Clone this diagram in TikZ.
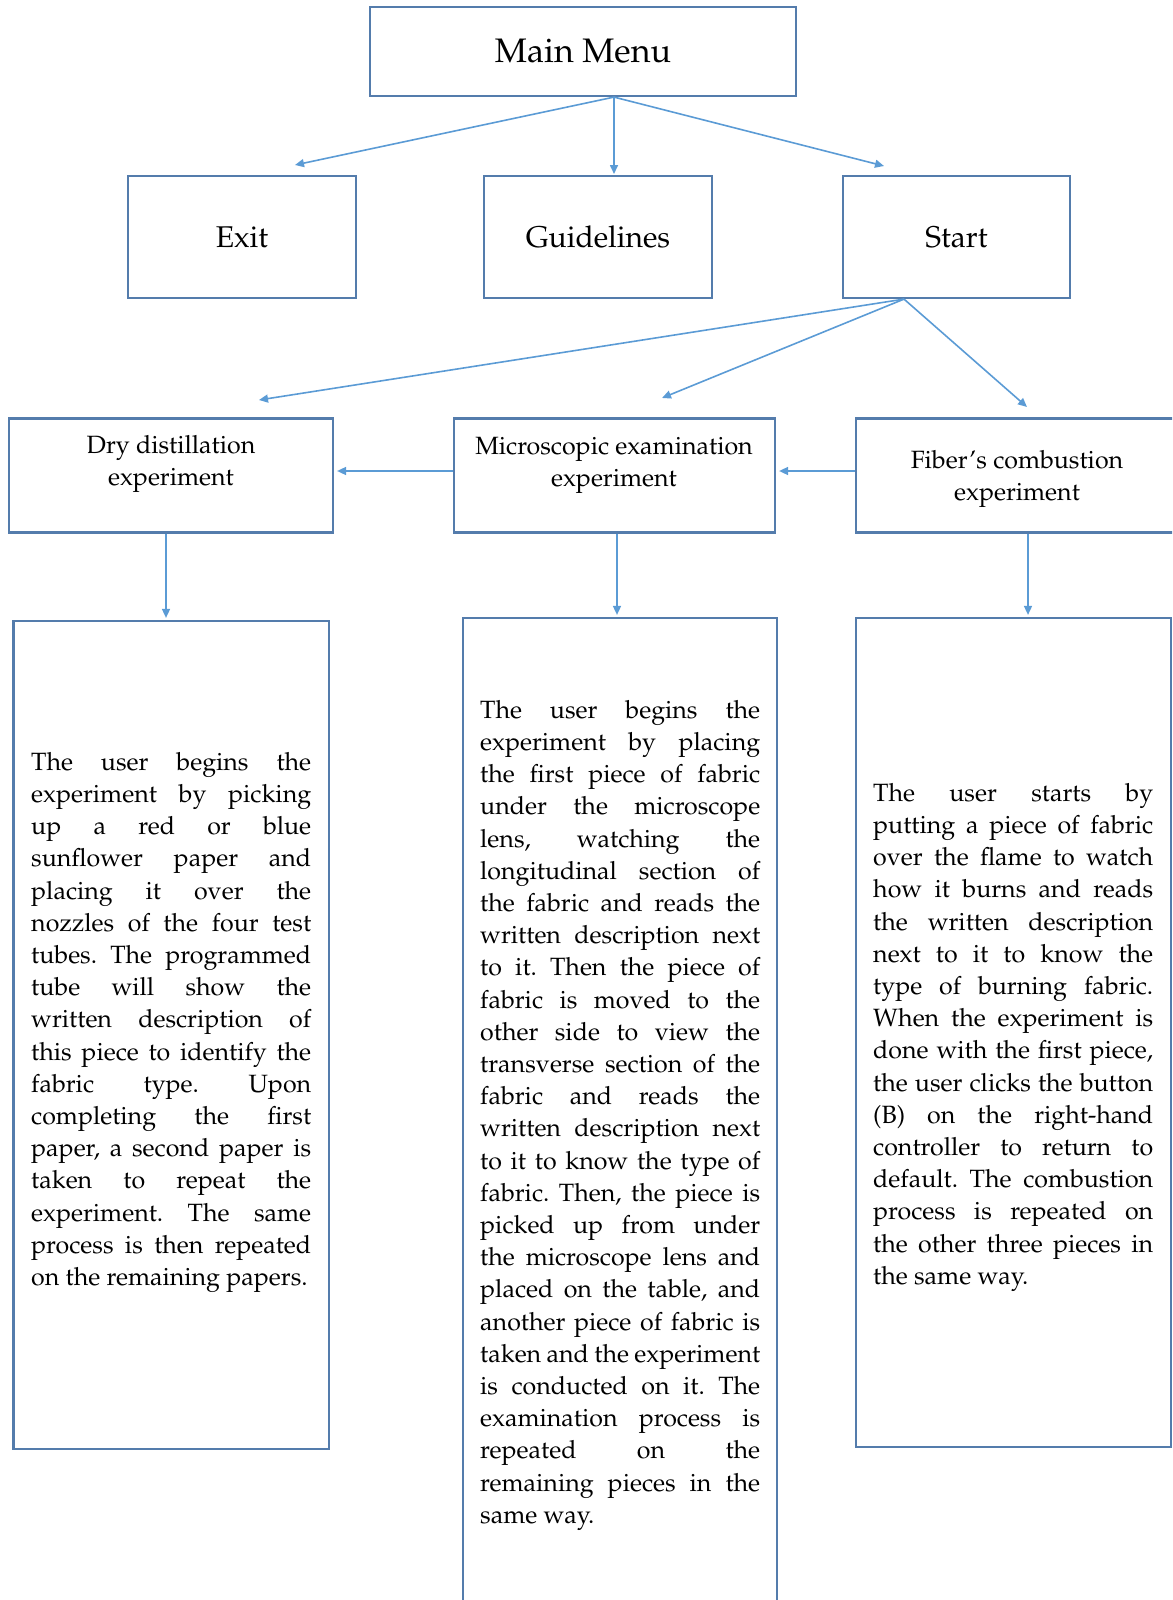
\documentclass[tikz,border=0pt]{standalone}
\usepackage[T1]{fontenc}
\usepackage{mathpazo}
\usetikzlibrary{arrows.meta}
\definecolor{boxc}{RGB}{84,124,172}
\definecolor{arrc}{RGB}{91,155,213}
\tolerance=10000
\hbadness=10000
\hyphenpenalty=10000
\emergencystretch=0pt
\frenchspacing
\begin{document}
\begin{tikzpicture}[x=1pt,y=-1pt,
 box/.style={draw=boxc,line width=2.2pt,inner sep=0pt,rectangle},
 arr/.style={draw=arrc,line width=1.6pt,-{Triangle[length=9pt,width=8pt]}},
 body/.style={text width=280pt,align=justify,inner sep=0pt,font=\fontsize{25}{32.2}\selectfont\frenchspacing,anchor=north west},
 head/.style={align=center,inner sep=0pt,font=\fontsize{25}{32.2}\selectfont}]
\useasboundingbox (0,0) rectangle (1172,1600);
\clip (0,0) rectangle (1172,1600);
% top level
\node[box,minimum width=426pt,minimum height=89pt,font=\fontsize{34}{40}\selectfont] (main) at (583,51.5) {Main Menu};
\node[box,minimum width=228pt,minimum height=122pt,font=\fontsize{30}{36}\selectfont] (exit) at (242,237) {Exit};
\node[box,minimum width=228pt,minimum height=122pt,font=\fontsize{30}{36}\selectfont] (gdl) at (598,237) {Guidelines};
\node[box,minimum width=227pt,minimum height=122pt,font=\fontsize{30}{36}\selectfont] (start) at (956.5,237) {Start};
% experiment boxes
\node[box,minimum width=324pt,minimum height=114pt] (dryb) at (171,475.5) {};
\node[head] (dryt) at (171,464) {Dry distillation\\experiment};
\node[box,minimum width=321pt,minimum height=114pt] (micb) at (614.5,475.5) {};
\node[head] (mict) at (614,465) {Microscopic examination\\experiment};
\node[box,minimum width=329pt,minimum height=114pt] (fibb) at (1020.5,475.5) {};
\node[head] (fibt) at (1017,479) {Fiber's combustion\\experiment};
% body boxes
\node[box,minimum width=315.5pt,minimum height=828pt] (b1) at (171.25,1035) {};
\node[box,minimum width=314pt,minimum height=1002pt] (b2) at (620,1119) {};
\node[box,minimum width=315pt,minimum height=829pt] (b3) at (1013.5,1032.5) {};
\node[body] (t1) at (31,752) {The user begins the\linebreak
experiment by picking\linebreak
up a red or blue\linebreak
sunflower paper and\linebreak
placing it over the\linebreak
nozzles of the four test\linebreak
tubes. The programmed\linebreak
tube will show the\linebreak
written description of\linebreak
this piece to identify the\linebreak
fabric type. Upon\linebreak
completing the first\linebreak
paper, a second paper is\linebreak
taken to repeat the\linebreak
experiment. The same\linebreak
process is then repeated\linebreak
on the remaining papers.};
\node[body] (t2) at (480,700) {The user begins the\linebreak
experiment by placing\linebreak
the first piece of fabric\linebreak
under the microscope\linebreak
lens, watching the\linebreak
longitudinal section of\linebreak
the fabric and reads the\linebreak
written description next\linebreak
to it. Then the piece of\linebreak
fabric is moved to the\linebreak
other side to view the\linebreak
transverse section of the\linebreak
fabric and reads the\linebreak
written description next\linebreak
to it to know the type of\linebreak
fabric. Then, the piece is\linebreak
picked up from under\linebreak
the microscope lens and\linebreak
placed on the table, and\linebreak
another piece of fabric is\linebreak
taken and the experiment\linebreak
is conducted on it. The\linebreak
examination process is\linebreak
repeated on the\linebreak
remaining pieces in the\linebreak
same way.};
\node[body] (t3) at (873,783) {The user starts by\linebreak
putting a piece of fabric\linebreak
over the flame to watch\linebreak
how it burns and reads\linebreak
the written description\linebreak
next to it to know the\linebreak
type of burning fabric.\linebreak
When the experiment is\linebreak
done with the first piece,\linebreak
the user clicks the button\linebreak
(B) on the right-hand\linebreak
controller to return to\linebreak
default. The combustion\linebreak
process is repeated on\linebreak
the other three pieces in\linebreak
the same way.};
% arrow end points
\coordinate (e1) at (295,165);
\coordinate (e2) at (614,174);
\coordinate (e3) at (884,166);
\coordinate (e4) at (259,400);
\coordinate (e5) at (662,398);
\coordinate (e6) at (1027,407);
% connectors
\draw[arr] ([xshift=31pt]main.south) -- (e1);
\draw[arr] ([xshift=31pt]main.south) -- (e2);
\draw[arr] ([xshift=31pt]main.south) -- (e3);
\draw[arr] ([xshift=-52.5pt]start.south) -- (e4);
\draw[arr] ([xshift=-52.5pt]start.south) -- (e5);
\draw[arr] ([xshift=-52.5pt]start.south) -- (e6);
\draw[arr] ([yshift=4.5pt]micb.west) -- ([yshift=4.5pt,xshift=3pt]dryb.east);
\draw[arr] ([yshift=4.5pt]fibb.west) -- ([yshift=4.5pt,xshift=3pt]micb.east);
\draw[arr] ([xshift=-5pt]dryb.south) -- ([xshift=-5.25pt,yshift=2pt]b1.north);
\draw[arr] ([xshift=2.5pt]micb.south) -- ([xshift=-3pt,yshift=2pt]b2.north);
\draw[arr] ([xshift=7.5pt]fibb.south) -- ([xshift=14.5pt,yshift=2pt]b3.north);
\end{tikzpicture}
\end{document}
